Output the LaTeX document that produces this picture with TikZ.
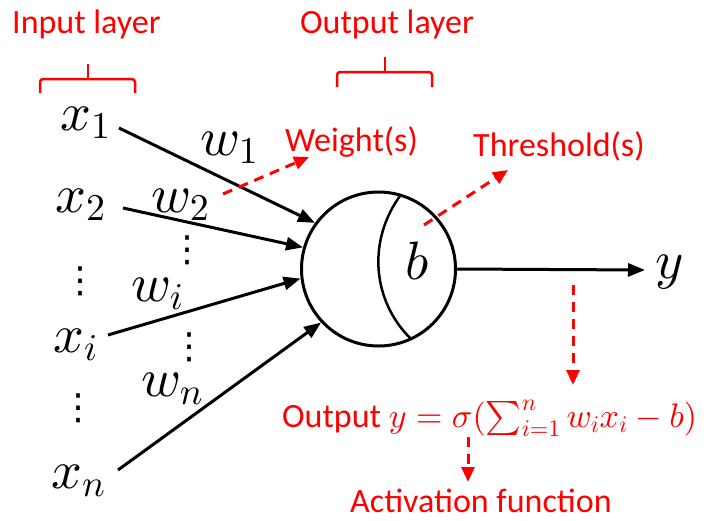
\documentclass[tikz,border=0pt]{standalone}
\usepackage[no-math]{fontspec}
\setmainfont{Carlito}
\newfontfamily\symfont{DejaVu Sans}
\DeclareFontShape{OML}{cmm}{m}{it}{<->cmmi10}{}
\DeclareFontShape{OT1}{cmr}{m}{n}{<->cmr10}{}
\DeclareFontShape{OMS}{cmsy}{m}{n}{<->cmsy10}{}
\DeclareFontShape{OMX}{cmex}{m}{n}{<->cmex10}{}
\usetikzlibrary{arrows.meta}
\definecolor{annot}{RGB}{255,0,0}
\begin{document}
\begin{tikzpicture}[x=1pt,y=-1pt,
  mathlbl/.style={inner sep=0pt, anchor=base west, font=\fontsize{54}{60}\selectfont},
  redlbl/.style={inner sep=0pt, anchor=base west, text=annot, font=\fontsize{34}{40}\selectfont},
  conn/.style={line width=3pt, -{Triangle[length=17pt,width=13pt]}},
  hint/.style={draw=annot, line width=3pt, dash pattern=on 10pt off 7pt, -{Triangle[length=15pt,width=13pt]}, annot},
  bracepath/.style={draw=annot, line width=2.5pt, rounded corners=3pt},
  dotstack/.style={inner sep=0pt, font=\symfont\fontsize{36}{40}\selectfont}]
\useasboundingbox (0,0) rectangle (708,520);

% labels
\node[redlbl] (inlbl) at (12,33) {Input layer};
\node[redlbl] (outlbl) at (300,33) {Output layer};
\node[redlbl] (wlbl) at (285,151) {Weight(s)};
\node[redlbl] (thlbl) at (473,156) {Threshold(s)};
\node[redlbl] (formula) at (282,427) {Output $y=\sigma(\textstyle\sum_{i=1}^{n} w_i x_i-b)$};
\node[redlbl] (actlbl) at (350,512) {Activation function};

% braces
\draw[bracepath] (40,93) -- (40,79) -- (135,79) -- (135,93);
\draw[bracepath] (88,79) -- (88,64);
\draw[bracepath] (337,87) -- (337,72) -- (432,72) -- (432,87);
\draw[bracepath] (385,72) -- (385,57);

% inputs
\node[mathlbl] (x1) at (60,130) {$x_1$};
\node[mathlbl] (x2) at (55,212) {$x_2$};
\node[mathlbl] (xi) at (53,352) {$x_i$};
\node[mathlbl] (xn) at (51,488) {$x_n$};
\node[dotstack] (xd1) at (80,281.5) {⋮};
\node[dotstack] (xd2) at (78,408) {⋮};

% weights
\node[mathlbl] (w1) at (200,155) {$w_1$};
\node[mathlbl] (w2) at (151,212) {$w_2$};
\node[mathlbl] (wi) at (131,301) {$w_i$};
\node[mathlbl] (wn) at (141,396) {$w_n$};
\node[dotstack] (wd1) at (187,250.5) {⋮};
\node[dotstack] (wd2) at (189,347) {⋮};

% neuron
\node[draw, circle, line width=3pt, minimum size=154pt, inner sep=0pt] (neuron) at (378.5,269) {};
\draw[line width=2.5pt] (401,194.5) .. controls (367.3,239.9) and (371.6,300.2) .. (411,339);
\node[mathlbl] (b) at (405,279) {$b$};
\node[mathlbl] (y) at (655,278) {$y$};

% connectors
\coordinate (s1) at (119,128);
\coordinate (s2) at (123,208);
\coordinate (s3) at (108,335);
\coordinate (s4) at (118,470);
\draw[conn] (s1) -- (neuron.144.75);
\draw[conn] (s2) -- (neuron.164.5);
\draw[conn] (s3) -- (neuron.187.9);
\draw[conn] (s4) -- (neuron.223.7);
\coordinate (yend) at (645,270);
\draw[conn] (neuron.east) -- (yend);

% annotation arrows
\coordinate (wa) at (223,194);
\coordinate (wb) at (309,157);
\draw[hint] (wa) -- (wb);
\coordinate (ta) at (424,225);
\coordinate (tb) at (508,170);
\draw[hint] (ta) -- (tb);
\coordinate (oa) at (573,285);
\coordinate (ob) at (573,385);
\draw[hint] (oa) -- (ob);
\coordinate (aa) at (468,437);
\coordinate (ab) at (468,482);
\draw[hint] (aa) -- (ab);
\end{tikzpicture}
\end{document}
